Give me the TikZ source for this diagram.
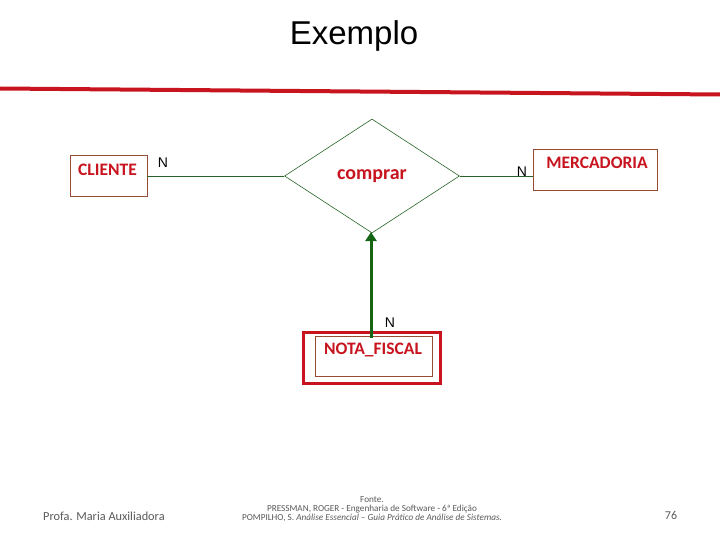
\documentclass[tikz,border=0pt]{standalone}
\usepackage{fontspec}
\setmainfont{Carlito}
\newfontfamily\arialfont{Liberation Sans}
\usetikzlibrary{shapes.geometric,arrows.meta,calc}
\definecolor{erred}{RGB}{200,20,30}
\definecolor{boxbrown}{RGB}{150,75,50}
\definecolor{lnGreen}{RGB}{40,100,40}
\definecolor{arrGreen}{RGB}{20,100,20}
\definecolor{footgray}{RGB}{90,90,90}
\begin{document}
\begin{tikzpicture}[x=1pt,y=-1pt,
  entity/.style={draw=boxbrown, line width=0.8pt, inner sep=0pt},
  etext/.style={text=erred, inner sep=0pt, font=\bfseries\fontsize{17.5}{19}\selectfont},
  rel/.style={draw=lnGreen, line width=0.6pt, diamond, inner sep=0pt, minimum width=175pt, minimum height=114pt, text=erred, font=\bfseries\fontsize{20}{22}\selectfont},
  conn/.style={draw=lnGreen, line width=0.7pt},
  card/.style={font=\arialfont\fontsize{14}{16}\selectfont, inner sep=0pt},
  foot/.style={text=footgray, inner sep=0pt},
  fsmall/.style={foot, anchor=base, font=\fontsize{9.2}{10}\selectfont}]
\useasboundingbox (0,0) rectangle (720,540);
\fill[white] (0,0) rectangle (720,540);
% title
\node[font=\arialfont\fontsize{33}{36}\selectfont, inner sep=0pt] (title) at (354,36) {Exemplo};
% red rule
\coordinate (rl) at (0,88.5);
\coordinate (rr) at (720,94.5);
\draw[erred, line width=4pt] (rl) -- (rr);
% entities
\node[entity, minimum width=77pt, minimum height=41pt] (cli) at (108.5,175.5) {};
\node[etext] (clit) at (107.5,170) {CLIENTE};
\node[entity, minimum width=124pt, minimum height=41pt] (merc) at (595,169.5) {};
\node[etext] (merct) at (597,163) {MERCADORIA};
% relationship
\node[rel] (comp) at (372,176) {comprar};
% nota fiscal
\node[draw=erred, line width=3pt, minimum width=137pt, minimum height=51pt, inner sep=0pt] (notao) at (371.5,357.5) {};
\node[entity, minimum width=117pt, minimum height=40pt] (nota) at (373.5,356) {};
\node[etext] (notat) at (373,350) {NOTA\_FISCAL};
% connectors
\draw[conn] (cli.east |- comp.west) -- (comp.west);
\draw[conn] (comp.east) -- (merc.west |- comp.east);
\coordinate (astart) at (371,338);
\coordinate (aend) at (371,232);
\draw[arrGreen, line width=3pt, -{Triangle[width=11pt,length=9pt]}] (astart) -- (aend);
% cardinalities
\node[card] (n1) at (163,163) {N};
\node[card] (n2) at (522,172) {N};
\node[card] (n3) at (390,323) {N};
% footer
\node[foot, font=\fontsize{12.3}{14}\selectfont, anchor=west] (prof) at (43,516) {Profa. Maria Auxiliadora};
\node[fsmall] (f1) at (372,502) {Fonte.};
\node[fsmall] (f2) at (372,511) {PRESSMAN, ROGER - Engenharia de Software - 6ª Edição};
\node[fsmall] (f3) at (372,520) {POMPILHO, S. \textit{Análise Essencial – Guia Prático de Análise de Sistemas.}};
\node[foot, font=\fontsize{12}{14}\selectfont] (pg) at (671,515) {76};
\end{tikzpicture}
\end{document}
